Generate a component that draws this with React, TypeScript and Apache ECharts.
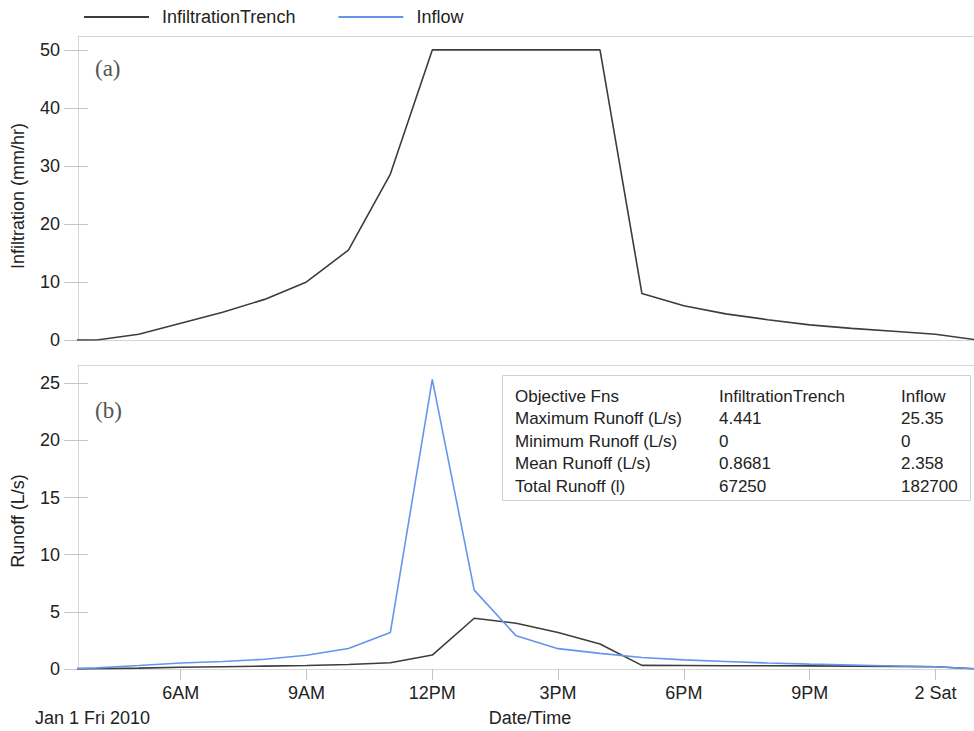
import React, { useEffect, useRef } from "react";
import * as echarts from "echarts";

const hours = [3, 4, 5, 6, 7, 8, 9, 10, 11, 12, 13, 14, 15, 16, 17, 18, 19, 20, 21, 22, 23, 24, 25];
const infiltration = [0, 0, 1.0, 2.9, 4.8, 7.0, 10, 15.5, 28.6, 50, 50, 50, 50, 50, 8.0, 5.9, 4.5, 3.5, 2.6, 2.0, 1.5, 1.0, 0];
const runoffTrench = [0, 0.02, 0.08, 0.15, 0.2, 0.25, 0.3, 0.4, 0.55, 1.22, 4.44, 4.0, 3.2, 2.19, 0.32, 0.3, 0.29, 0.28, 0.27, 0.25, 0.23, 0.2, 0];
const runoffInflow = [0, 0.1, 0.3, 0.52, 0.65, 0.85, 1.2, 1.8, 3.2, 25.35, 6.9, 2.9, 1.78, 1.37, 1.0, 0.8, 0.66, 0.52, 0.43, 0.35, 0.26, 0.2, 0];

const topTicks = [0, 10, 20, 30, 40, 50];
const bottomTicks = [0, 5, 10, 15, 20, 25];
const xTicks = [6, 9, 12, 15, 18, 21, 24];
const xTickLabels = ["6AM", "9AM", "12PM", "3PM", "6PM", "9PM", "2 Sat"];

const tableRows = [
  ["Objective Fns", "InfiltrationTrench", "Inflow"],
  ["Maximum Runoff (L/s)", "4.441", "25.35"],
  ["Minimum Runoff (L/s)", "0", "0"],
  ["Mean Runoff (L/s)", "0.8681", "2.358"],
  ["Total Runoff (l)", "67250", "182700"],
];

const X_MIN = 3.55;
const X_MAX = 24.92;
const FONT = "'Liberation Sans', Arial, sans-serif";
const AXIS_COLOR = "#d6d6d6";
const TICK_COLOR = "#c4c4c4";
const TEXT_COLOR = "#222";
const BLACK = "#3d3d3d";
const BLUE = "#6495ED";

export default function App() {
  const ref = useRef<HTMLDivElement>(null);

  useEffect(() => {
    if (!ref.current) return;
    const chart = echarts.init(ref.current, undefined, { renderer: "svg" });

    const pairs = (vals: number[]) => hours.map((h, i) => [h, vals[i]]);

    const xBase = (gridIndex: number) => ({
      type: "value" as const,
      gridIndex,
      min: X_MIN,
      max: X_MAX,
      splitLine: { show: false },
    });

    const yPair = (gridIndex: number, max: number, ticks: number[]) => [
      {
        type: "value",
        gridIndex,
        min: 0,
        max,
        position: "left",
        axisLine: { show: true, onZero: false, lineStyle: { color: AXIS_COLOR, width: 1 } },
        axisTick: { show: true, inside: false, length: 14, customValues: ticks, lineStyle: { color: TICK_COLOR } },
        axisLabel: { show: true, customValues: ticks, margin: 18, fontSize: 18, color: TEXT_COLOR, fontFamily: FONT },
        splitLine: { show: false },
      },
      {
        type: "value",
        gridIndex,
        min: 0,
        max,
        position: "left",
        axisLine: { show: false, onZero: false },
        axisTick: { show: true, inside: true, length: 10, customValues: ticks, lineStyle: { color: TICK_COLOR } },
        axisLabel: { show: false },
        splitLine: { show: false },
      },
    ];

    const tableGraphics: any[] = [
      {
        type: "rect",
        shape: { x: 502.5, y: 375.5, width: 468, height: 125 },
        style: { fill: "#fff", stroke: "#d0d0d0", lineWidth: 1 },
        z: 10,
      },
    ];
    const colX = [515, 719, 901];
    tableRows.forEach((row, r) => {
      row.forEach((cell, c) => {
        tableGraphics.push({
          type: "text",
          x: colX[c],
          y: 396.5 + r * 22.4,
          z: 11,
          style: {
            text: cell,
            fontSize: 17,
            fontFamily: FONT,
            fill: TEXT_COLOR,
            align: "left",
            verticalAlign: "middle",
          },
        });
      });
    });

    const option: any = {
      animation: false,
      backgroundColor: "#fff",
      legend: {
        data: ["InfiltrationTrench", "Inflow"],
        left: 78,
        top: 3,
        itemWidth: 65,
        itemHeight: 2,
        itemGap: 42,
        itemStyle: { opacity: 0 },
        textStyle: { fontSize: 18, color: TEXT_COLOR, fontFamily: FONT, padding: [0, 0, 0, 8] },
      },
      grid: [
        { left: 78, top: 36, width: 896, height: 304, containLabel: false },
        { left: 78, top: 365, width: 896, height: 304, containLabel: false },
      ],
      xAxis: [
        {
          ...xBase(0),
          position: "bottom",
          axisLine: { show: true, onZero: false, lineStyle: { color: AXIS_COLOR } },
          axisTick: { show: false },
          axisLabel: { show: false },
        },
        {
          ...xBase(0),
          position: "top",
          axisLine: { show: true, onZero: false, lineStyle: { color: AXIS_COLOR } },
          axisTick: { show: false },
          axisLabel: { show: false },
        },
        {
          ...xBase(1),
          position: "bottom",
          axisLine: { show: true, onZero: false, lineStyle: { color: AXIS_COLOR } },
          axisTick: { show: true, length: 11, customValues: xTicks, lineStyle: { color: TICK_COLOR } },
          axisLabel: {
            show: true,
            customValues: xTicks,
            margin: 15,
            fontSize: 18,
            color: TEXT_COLOR,
            fontFamily: FONT,
            formatter: (v: number) => {
              const i = xTicks.indexOf(Math.round(v));
              return i >= 0 ? xTickLabels[i] : "";
            },
          },
        },
        {
          ...xBase(1),
          position: "top",
          axisLine: { show: true, onZero: false, lineStyle: { color: AXIS_COLOR } },
          axisTick: { show: false },
          axisLabel: { show: false },
        },
      ],
      yAxis: [...yPair(0, 52.4, topTicks), ...yPair(1, 26.6, bottomTicks)],
      series: [
        {
          name: "InfiltrationTrench",
          type: "line",
          xAxisIndex: 0,
          yAxisIndex: 0,
          data: pairs(infiltration),
          symbol: "none",
          clip: true,
          lineStyle: { color: BLACK, width: 1.6 },
          itemStyle: { color: BLACK },
        },
        {
          name: "InfiltrationTrench",
          type: "line",
          xAxisIndex: 2,
          yAxisIndex: 2,
          data: pairs(runoffTrench),
          symbol: "none",
          clip: true,
          lineStyle: { color: BLACK, width: 1.6 },
          itemStyle: { color: BLACK },
        },
        {
          name: "Inflow",
          type: "line",
          xAxisIndex: 2,
          yAxisIndex: 2,
          data: pairs(runoffInflow),
          symbol: "none",
          clip: true,
          lineStyle: { color: BLUE, width: 1.6 },
          itemStyle: { color: BLUE },
        },
      ],
      graphic: [
        {
          type: "text",
          x: 95,
          y: 68,
          style: { text: "(a)", fontSize: 23, fontFamily: "'Liberation Serif', 'Times New Roman', serif", fill: "#555", verticalAlign: "middle" },
        },
        {
          type: "text",
          x: 95,
          y: 410,
          style: { text: "(b)", fontSize: 23, fontFamily: "'Liberation Serif', 'Times New Roman', serif", fill: "#555", verticalAlign: "middle" },
        },
        {
          type: "text",
          x: 18,
          y: 196,
          rotation: Math.PI / 2,
          style: { text: "Infiltration (mm/hr)", fontSize: 18, fontFamily: FONT, fill: TEXT_COLOR, align: "center", verticalAlign: "middle" },
        },
        {
          type: "text",
          x: 18,
          y: 521,
          rotation: Math.PI / 2,
          style: { text: "Runoff (L/s)", fontSize: 18, fontFamily: FONT, fill: TEXT_COLOR, align: "center", verticalAlign: "middle" },
        },
        {
          type: "text",
          x: 35,
          y: 718,
          style: { text: "Jan 1 Fri 2010", fontSize: 18, fontFamily: FONT, fill: TEXT_COLOR, align: "left", verticalAlign: "middle" },
        },
        {
          type: "text",
          x: 530,
          y: 718,
          style: { text: "Date/Time", fontSize: 18, fontFamily: FONT, fill: TEXT_COLOR, align: "center", verticalAlign: "middle" },
        },
        ...tableGraphics,
      ],
    };

    chart.setOption(option);
    return () => chart.dispose();
  }, []);

  return (
    <div
      ref={ref}
      style={{ position: "fixed", left: 0, top: 0, width: 974, height: 731, background: "#fff" }}
    />
  );
}
